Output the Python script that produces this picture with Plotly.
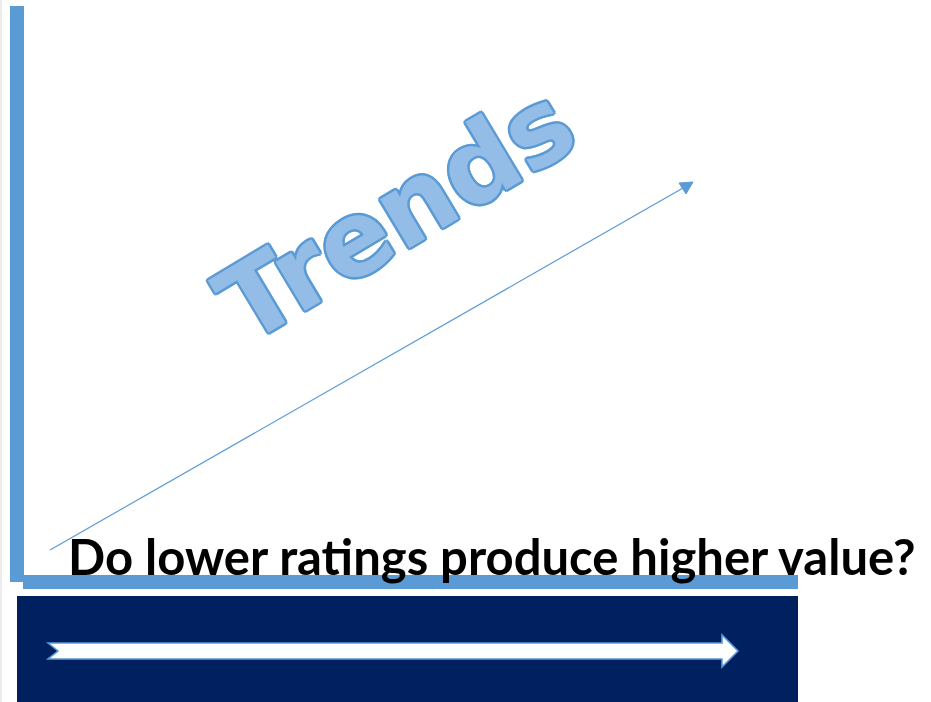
import plotly.graph_objects as go

W, H = 931, 702
BLUE = "#5B9BD5"
NAVY = "#002060"

# Diagram content
title_text = "Trends"
question_text = "Do lower ratings produce higher value?"
trend_x = [50, 683]
trend_y = [550, 188]

fig = go.Figure()

# thin trend line
fig.add_trace(go.Scatter(x=trend_x, y=trend_y, mode="lines",
                         line=dict(color=BLUE, width=1.2),
                         hoverinfo="skip", showlegend=False))

shapes = []
# faint left edge
shapes.append(dict(type="rect", x0=0, x1=2, y0=0, y1=H, fillcolor="#ECECEC", line_width=0, layer="below"))
# vertical axis bar
shapes.append(dict(type="rect", x0=10, x1=24, y0=6, y1=582, fillcolor=BLUE, line_width=0, layer="below"))
# horizontal axis bar
shapes.append(dict(type="rect", x0=23, x1=798, y0=575, y1=589, fillcolor=BLUE, line_width=0, layer="below"))
# navy band
shapes.append(dict(type="rect", x0=17, x1=798, y0=596, y1=H + 2, fillcolor=NAVY, line_width=0, layer="below"))
# arrow head of trend line
shapes.append(dict(type="path", path="M 693 182 L 679 183 L 686 194 Z",
                   fillcolor=BLUE, line=dict(color=BLUE, width=1)))
# white block arrow
shapes.append(dict(type="path",
                   path="M 48 643 L 58 651 L 48 659 L 722 659 L 722 667 L 738 651 L 722 635 L 722 643 Z",
                   fillcolor="white", line=dict(color=BLUE, width=1.6)))

fig.update_layout(shapes=shapes)

outline = ", ".join(f"{dx}px {dy}px 0 {BLUE}" for dx, dy in
                    [(2.5, 0), (-2.5, 0), (0, 2.5), (0, -2.5), (1.8, 1.8), (-1.8, 1.8), (1.8, -1.8), (-1.8, -1.8)])

fig.add_annotation(x=396, y=214, xref="x", yref="y", text=f"<b>{title_text}</b>",
                   showarrow=False, textangle=-31,
                   font=dict(family="DejaVu Sans", size=104, color="#93BDE6", shadow=outline))

fig.add_annotation(x=66, y=556, xref="x", yref="y", text=f"<b>{question_text}</b>",
                   showarrow=False, xanchor="left", yanchor="middle",
                   font=dict(family="Lato", size=49, color="black"))

fig.update_xaxes(range=[0, W], visible=False, fixedrange=True)
fig.update_yaxes(range=[H, 0], visible=False, fixedrange=True)
fig.update_layout(width=W, height=H, margin=dict(l=0, r=0, t=0, b=0),
                  plot_bgcolor="white", paper_bgcolor="white", showlegend=False)

fig.write_html("out.html", config={"displayModeBar": False},
               post_script="document.body.style.margin='0';document.body.style.overflow='hidden';")
